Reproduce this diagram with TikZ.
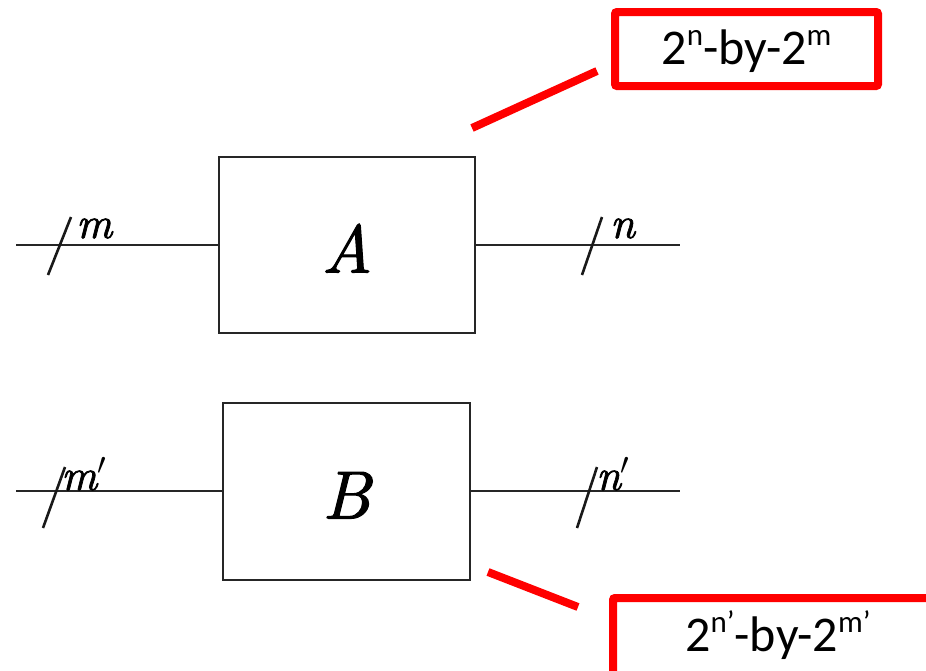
\documentclass[tikz,border=0pt]{standalone}
\usepackage{fix-cm}
\usepackage{fontspec}
\newfontfamily\carlito{Carlito}
\newfontfamily\lmthick[FakeBold=1.6, ItalicFont=lmroman10-italic.otf, ItalicFeatures={FakeBold=1.6}]{lmroman10-regular.otf}
\newcommand\upidx[1]{{\fontsize{31}{33}\selectfont\raisebox{19pt}{#1}}}
\newcommand\pr{\ensuremath{{}^{\boldsymbol{\prime}}}}
\begin{document}
\begin{tikzpicture}[x=1pt,y=-1pt,
  sys/.style={draw=black!85, line width=2pt, inner sep=0pt, text height=55pt, text depth=0pt, font=\lmthick\itshape\fontsize{68}{70}\selectfont},
  wire/.style={draw=black!85, line width=2pt},
  tick/.style={draw=black!90, line width=2.6pt},
  lbl/.style={inner sep=0pt, anchor=base west, font=\lmthick\itshape\fontsize{44}{46}\selectfont},
  redbox/.style={draw=red, line width=8pt, rounded corners=2pt, font=\carlito\fontsize{50}{52}\selectfont, text height=31pt, text depth=0pt, inner sep=0pt},
  redline/.style={draw=red, line width=8pt}]
\clip (0,0) rectangle (926,670);
\fill[white] (0,0) rectangle (926,670);
% system A
\node[sys, minimum width=256pt, minimum height=176pt] (A) at (347,245) {A};
\coordinate (ain) at (16,245);
\coordinate (aout) at (680,245);
\draw[wire] (ain) -- (ain -| A.west);
\draw[wire] (A.east) -- (aout);
\coordinate (ta1) at (48,275); \coordinate (ta2) at (71,217);
\coordinate (tb1) at (582,275); \coordinate (tb2) at (602,217);
\draw[tick] (ta1) -- (ta2);
\draw[tick] (tb1) -- (tb2);
\node[lbl] (lm) at (76,238) {m};
\node[lbl] (ln) at (610,238) {n};
% system B
\node[sys, minimum width=247pt, minimum height=177pt] (B) at (346.5,491) {B};
\coordinate (bin) at (16,491);
\coordinate (bout) at (680,491);
\draw[wire] (bin) -- (bin -| B.west);
\draw[wire] (B.east) -- (bout);
\coordinate (tc1) at (43,528); \coordinate (tc2) at (65,467);
\coordinate (td1) at (577,528); \coordinate (td2) at (597,467);
\draw[tick] (tc1) -- (tc2);
\draw[tick] (td1) -- (td2);
\node[lbl] (lmp) at (61,490) {m$'$};
\node[lbl] (lnp) at (596,490) {n$'$};
% annotations
\node[redbox, minimum width=263pt, minimum height=74pt] (R1) at (746.5,49) {2\upidx{n}-by-2\upidx{m}};
\node[redbox, text depth=34pt, minimum width=330pt, minimum height=110pt, anchor=north west] (R2) at (609,594) {2\upidx{n’}-by-2\upidx{m’}};
\coordinate (r1a) at (472,128); \coordinate (r1b) at (597,71);
\coordinate (r2a) at (488,572); \coordinate (r2b) at (578,607);
\draw[redline] (r1a) -- (r1b);
\draw[redline] (r2a) -- (r2b);
\end{tikzpicture}
\end{document}
